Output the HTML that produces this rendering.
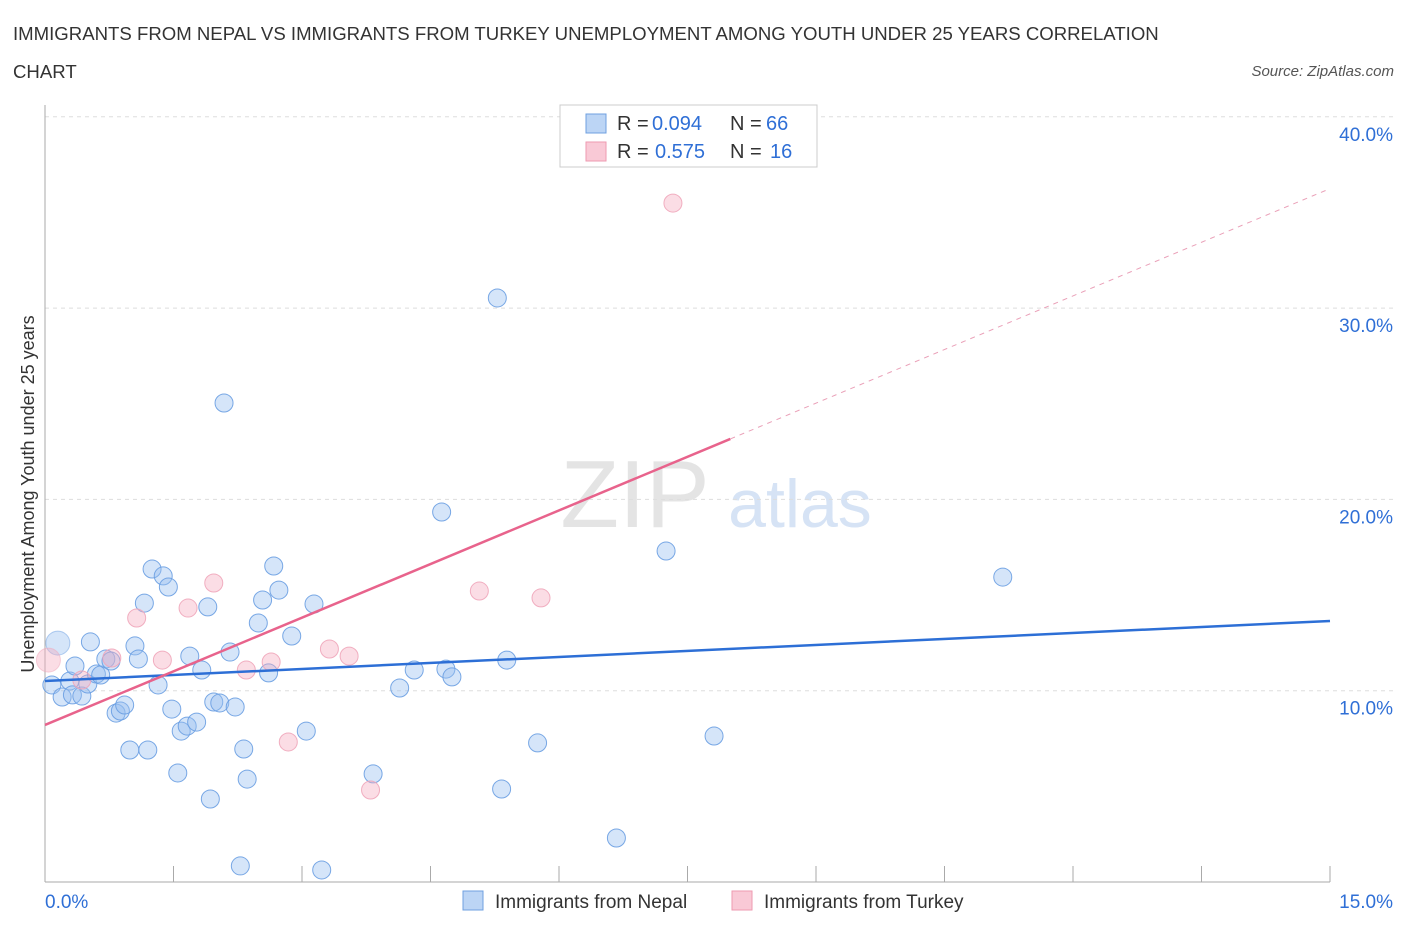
<!DOCTYPE html>
<html><head><meta charset="utf-8"><style>
body{margin:0;background:#fff;font-family:"Liberation Sans",sans-serif}
svg text{font-family:"Liberation Sans",sans-serif}
</style></head><body>
<svg id="c" width="1406" height="930">
<text x="13" y="40" font-size="18.6" fill="#333">IMMIGRANTS FROM NEPAL VS IMMIGRANTS FROM TURKEY UNEMPLOYMENT AMONG YOUTH UNDER 25 YEARS CORRELATION</text>
<text x="13" y="78" font-size="18.6" fill="#333">CHART</text>
<text x="1394" y="76" font-size="15" fill="#555" text-anchor="end" font-style="italic">Source: ZipAtlas.com</text>
<text x="635" y="527" font-size="96" fill="#e4e4e4" text-anchor="middle" font-family="Liberation Serif">ZIP</text>
<text x="800" y="527" font-size="68" fill="#d6e3f5" text-anchor="middle">atlas</text>
<text transform="translate(34,494) rotate(-90)" font-size="18" fill="#333" text-anchor="middle">Unemployment Among Youth under 25 years</text>
<g id="grid"></g><g id="marks"></g>
<g>
<rect x="560" y="105" width="257" height="62" fill="#fff" stroke="#ccc"/>
<rect x="586" y="114" width="20" height="19" fill="#bcd5f5" stroke="#6fa0e0"/>
<rect x="586" y="142" width="20" height="19" fill="#f9c9d6" stroke="#ee9ab0"/>
<text x="617" y="130" font-size="20" fill="#333">R =</text>
<text x="652" y="130" font-size="20" fill="#2f6fd6">0.094</text>
<text x="730" y="130" font-size="20" fill="#333">N =</text>
<text x="766" y="130" font-size="20" fill="#2f6fd6">66</text>
<text x="617" y="158" font-size="20" fill="#333">R =</text>
<text x="655" y="158" font-size="20" fill="#2f6fd6">0.575</text>
<text x="730" y="158" font-size="20" fill="#333">N =</text>
<text x="770" y="158" font-size="20" fill="#2f6fd6">16</text>
</g>
<g>
<rect x="463" y="891" width="20" height="19" fill="#bcd5f5" stroke="#6fa0e0"/>
<text x="495" y="908" font-size="19" fill="#333">Immigrants from Nepal</text>
<rect x="732" y="891" width="20" height="19" fill="#f9c9d6" stroke="#ee9ab0"/>
<text x="764" y="908" font-size="19" fill="#333">Immigrants from Turkey</text>
</g>
</svg>
<script>
const xTicks=[0,15];
const yTicks=[10,20,30,40];
const nepalX=[0.15,0.08,0.20,0.29,0.35,0.32,0.43,0.50,0.53,0.60,0.65,0.71,0.77,0.83,0.88,0.93,0.99,1.05,1.09,1.16,1.20,1.25,1.32,1.38,1.44,1.48,1.55,1.59,1.66,1.69,1.77,1.83,1.90,1.93,1.97,2.04,2.09,2.16,2.22,2.28,2.32,2.36,2.49,2.54,2.61,2.67,2.73,2.88,3.05,3.14,3.23,3.83,4.14,4.31,4.63,4.68,4.75,5.28,5.33,5.39,5.75,6.67,7.25,7.81,11.18];
const nepalY=[12.49,10.30,9.67,10.51,11.29,9.78,9.72,10.35,12.55,10.87,10.82,11.66,11.55,8.83,8.94,9.25,6.90,12.34,11.66,14.58,6.90,16.36,10.30,16.00,15.42,9.04,5.70,7.89,8.15,11.81,8.36,11.08,14.38,4.34,9.41,9.36,25.04,12.02,9.15,0.84,6.95,5.38,13.54,14.74,10.93,16.52,15.26,12.86,7.89,14.53,0.63,5.65,10.14,11.08,19.34,11.13,10.72,30.53,4.86,11.60,7.27,2.30,17.30,7.63,15.94];
const turkeyX=[0.04,0.43,0.78,1.07,1.37,1.67,1.97,2.35,2.64,2.84,3.32,3.55,3.80,5.07,5.79,7.33];
const turkeyY=[11.60,10.56,11.71,13.80,11.60,14.32,15.63,11.08,11.50,7.32,12.18,11.81,4.81,15.21,14.85,35.49];
const nepalFit=[10.51,0.209];
const turkeyFit=[8.21,1.869];
const turkeySolidEnd=8.0;
const X=v=>45+v/15*1285, Y=v=>882-v*19.13;
const NS="http://www.w3.org/2000/svg";
function mk(t,a,p){const e=document.createElementNS(NS,t);for(const k in a)e.setAttribute(k,a[k]);p.appendChild(e);return e;}
const g=document.getElementById('grid'), m=document.getElementById('marks');
yTicks.forEach(t=>{
 const l=mk('line',{x1:45,x2:1394,y1:Y(t),y2:Y(t),stroke:'#ddd','stroke-dasharray':'4,4'},g);
 
 
 const tx=mk('text',{x:1393,y:Y(t)+24,'font-size':19,fill:'#2f6fd6','text-anchor':'end'},g);
 tx.textContent=t.toFixed(1)+'%';
 
 
});
mk('line',{x1:45,x2:45,y1:105,y2:882,stroke:'#aaa'},g);
mk('line',{x1:45,x2:1330,y1:882,y2:882,stroke:'#aaa'},g);
for(let i=0;i<=10;i++){const x=X(i*1.5);mk('line',{x1:x,x2:x,y1:866,y2:882,stroke:'#aaa'},g);}
xTicks.forEach((t,i)=>{
 const tx=mk('text',{x:i?1393:45,y:908,'font-size':19,fill:'#2f6fd6','text-anchor':i?'end':'start'},g);
 tx.textContent=t.toFixed(1)+'%';
 
 
});
function pts(xs,ys,fill,stroke,name){xs.forEach((x,i)=>{
 const c=mk('circle',{cx:X(x),cy:Y(ys[i]),r:i===0?12:9,fill:fill,stroke:stroke,'stroke-width':1,'stroke-opacity':i===0?0.5:0.9},m);
 
 
});}
pts(nepalX,nepalY,'rgba(150,190,240,0.4)','#6a9ee2','nepal-point');
pts(turkeyX,turkeyY,'rgba(245,170,190,0.4)','#f0a6ba','turkey-point');
const bl=mk('line',{x1:X(0),y1:Y(nepalFit[0]),x2:X(15),y2:Y(nepalFit[0]+nepalFit[1]*15),stroke:'#2d6fd6','stroke-width':2.5},m);


const pl=mk('line',{x1:X(0),y1:Y(turkeyFit[0]),x2:X(turkeySolidEnd),y2:Y(turkeyFit[0]+turkeyFit[1]*turkeySolidEnd),stroke:'#e8638c','stroke-width':2.5},m);


const pd=mk('line',{x1:X(turkeySolidEnd),y1:Y(turkeyFit[0]+turkeyFit[1]*turkeySolidEnd),x2:X(15),y2:Y(turkeyFit[0]+turkeyFit[1]*15),stroke:'#eaa0b8','stroke-width':1,'stroke-dasharray':'5,5'},m);


</script>
</body></html>
